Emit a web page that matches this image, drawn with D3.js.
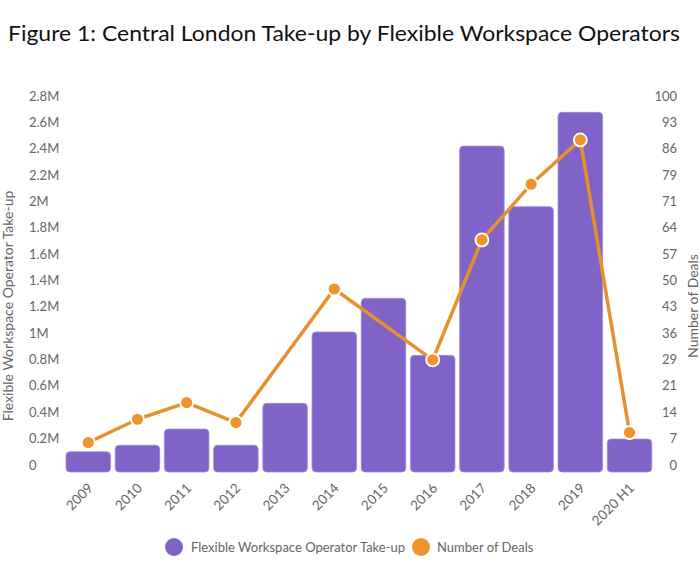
<!DOCTYPE html>
<html>
<head>
<meta charset="utf-8">
<script src="https://cdnjs.cloudflare.com/ajax/libs/d3/7.8.5/d3.min.js"></script>
<style>
  html, body { margin: 0; padding: 0; background: #fff; }
  svg { display: block; }
  text { font-family: Lato, "Open Sans", sans-serif; }
</style>
</head>
<body>
<svg id="chart" width="700" height="578"></svg>
<script>
const categories = ["2009","2010","2011","2012","2013","2014","2015","2016","2017","2018","2019","2020 H1"];
const takeUp = [0.154, 0.203, 0.326, 0.203, 0.521, 1.062, 1.318, 0.885, 2.473, 2.013, 2.729, 0.250]; // million sq ft
const deals = [8, 14.3, 18.8, 13.4, null, 49.6, null, 30.4, 62.9, 78, 90, 10.7];
const leftTicks = [0, 0.2, 0.4, 0.6, 0.8, 1, 1.2, 1.4, 1.6, 1.8, 2, 2.2, 2.4, 2.6, 2.8];
const leftTickLabels = ["0","0.2M","0.4M","0.6M","0.8M","1M","1.2M","1.4M","1.6M","1.8M","2M","2.2M","2.4M","2.6M","2.8M"];
const rightTickLabels = ["0","7","14","21","29","36","43","50","57","64","71","79","86","93","100"];
const seriesNames = ["Flexible Workspace Operator Take-up", "Number of Deals"];
const titleText = "Figure 1: Central London Take-up by Flexible Workspace Operators";

const purple = "#8063C6", orange = "#EE942F", lineOrange = "#E5912F", grey = "#666";
const svg = d3.select("#chart");

const x = d3.scaleBand().domain(categories).range([63.7, 654.1]).paddingInner(0.095).paddingOuter(0.047);
const yL = d3.scaleLinear().domain([0, 2.8]).range([472, 103]);
const yR = d3.scaleLinear().domain([0, 100]).range([472, 103]);

// title
svg.append("text").attr("x", 8).attr("y", 41)
  .attr("font-size", 22).attr("fill", "#111")
  .attr("textLength", 672).attr("lengthAdjust", "spacingAndGlyphs")
  .text(titleText);

// left ticks
svg.append("g").selectAll("text").data(leftTicks).join("text")
  .attr("x", 29).attr("y", d => yL(d) - 7).attr("dy", "0.35em")
  .attr("font-size", 13).attr("fill", grey)
  .text((d, i) => leftTickLabels[i]);

// right ticks
const rightTicks = rightTickLabels.map((_, i) => 100 / 14 * i);
svg.append("g").selectAll("text").data(rightTicks).join("text")
  .attr("x", 677).attr("y", d => yR(d) - 7).attr("dy", "0.35em")
  .attr("text-anchor", "end")
  .attr("font-size", 13).attr("fill", grey)
  .text((d, i) => rightTickLabels[i]);

// axis titles
svg.append("text").attr("transform", "translate(8,306) rotate(-90)")
  .attr("text-anchor", "middle").attr("dy", "0.35em")
  .attr("font-size", 14).attr("fill", grey).text(seriesNames[0]);
svg.append("text").attr("transform", "translate(693,306) rotate(-90)")
  .attr("text-anchor", "middle").attr("dy", "0.35em")
  .attr("font-size", 14).attr("fill", grey).text(seriesNames[1]);

// bars
svg.append("g").selectAll("rect").data(categories).join("rect")
  .attr("x", d => x(d)).attr("width", x.bandwidth())
  .attr("y", (d, i) => yL(takeUp[i])).attr("height", (d, i) => yL(0) - yL(takeUp[i]))
  .attr("rx", 4).attr("ry", 4)
  .attr("fill", purple).attr("stroke", "#A08BD8").attr("stroke-width", 0.8);

// x labels
svg.append("g").selectAll("text").data(categories).join("text")
  .attr("transform", d => `translate(${x(d) + x.bandwidth() / 2 + 5.5},489) rotate(-45)`)
  .attr("text-anchor", "end")
  .attr("font-size", 13.5).attr("fill", grey)
  .text(d => d);

// line
const pts = categories.map((c, i) => ({ c, v: deals[i] })).filter(d => d.v !== null);
svg.append("path").datum(pts)
  .attr("d", d3.line().x(d => x(d.c) + x.bandwidth() / 2).y(d => yR(d.v)))
  .attr("fill", "none").attr("stroke", lineOrange).attr("stroke-width", 3.5)
  .attr("stroke-linejoin", "round");
svg.append("g").selectAll("circle").data(pts).join("circle")
  .attr("cx", d => x(d.c) + x.bandwidth() / 2).attr("cy", d => yR(d.v))
  .attr("r", 6.5).attr("fill", orange).attr("stroke", "#fff").attr("stroke-width", 1.8);

// legend
const legend = svg.append("g");
legend.append("circle").attr("cx", 174).attr("cy", 547).attr("r", 9).attr("fill", purple);
legend.append("text").attr("x", 191).attr("y", 547).attr("dy", "0.35em")
  .attr("font-size", 13).attr("fill", grey).text(seriesNames[0]);
legend.append("circle").attr("cx", 421).attr("cy", 547).attr("r", 9).attr("fill", orange);
legend.append("text").attr("x", 437).attr("y", 547).attr("dy", "0.35em")
  .attr("font-size", 13).attr("fill", grey).text(seriesNames[1]);
</script>
</body>
</html>
